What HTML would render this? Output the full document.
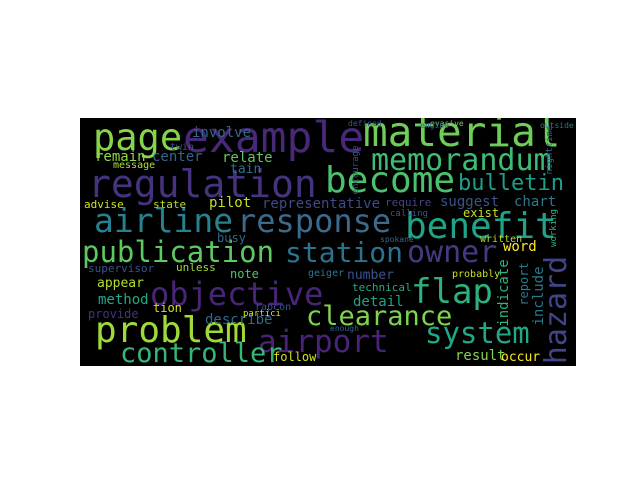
<!DOCTYPE html>
<html><head><meta charset="utf-8"><style>
html,body{margin:0;padding:0;background:#fff;width:640px;height:480px;overflow:hidden}
svg{position:absolute;left:0;top:0}
text{font-family:"DejaVu Sans Mono","Liberation Mono",monospace}
</style></head><body>
<svg width="640" height="480">
<defs><clipPath id="clip"><rect x="80" y="118" width="496" height="248"/></clipPath></defs>
<rect x="80" y="118" width="496" height="248" fill="#000"/>
<g id="words" clip-path="url(#clip)"></g>
</svg>
<script>
const words=["page","example","material","memorandum","regulation","become","bulletin","airline","response","benefit","publication","station","owner","objective","flap","problem","clearance","airport","system","controller","hazard","involve","remain","center","relate","message","tain","advise","state","pilot","representative","require","suggest","chart","exist","supervisor","unless","note","appear","method","tion","provide","describe","partici","rapcon","geiger","word","number","probably","indicate","report","include","technical","detail","result","occur","follow","evasive","defined","busy","twin","engine","written","spokane","calling","working","nighttime","encourage","outside","enough"];
const sizes=[37,43,41,30,38,36,22,33,32,36,29,28,30,32,34,36,27,31,29,27,30,14,14,14,14,10,13,11,11,14,14,11,14,14,12,11,11,12,13,14,12,12,14,9,10,10,14,13,10,14,12,14,11,14,14,13,12,8,8,12,10,8,10,8,9,9,9,9,8,8];
const xs=[93,183,363,371,88,325,458,94,237,405,82,285,407,150,411,95,306,258,425,120,566,192,95,152,222,113,230,84,153,209,262,385,440,514,463,88,176,230,97,98,153,88,205,243,255,308,503,347,452,508,528,543,352,353,455,501,273,430,348,217,170,420,480,380,390,556,552,358,540,330];
const ys=[150,152,146,170,197,192,190,232,232,238,262,262,262,305,303,342,325,352,343,362,310,137,161,161,162,168,173,208,208,207,208,206,206,206,217,272,271,278,287,304,312,318,324,316,310,276,251,279,277,293,284,296,291,306,360,361,361,126,126,242,150,128,242,242,216,228,150,170,128,331];
const colors=["#86d549","#482878","#6ece58","#3fbc73","#46337e","#4ac16d","#1f9e89","#26828e","#3b6a8d","#20a386","#5ec962","#2c728e","#443983","#482677","#2db27d","#a0da39","#7fd34e","#482475","#22a884","#35b779","#414487","#31688e","#8fd744","#31668e","#5ec962","#b5de2b","#2c728e","#d2e21b","#b5de2b","#c2df23","#3e4a89","#414487","#3b528b","#2a788e","#c8e020","#3b528b","#a0da39","#52c569","#b5de2b","#23a983","#d8e219","#46327e","#31688e","#d2e21b","#3b528b","#2a788e","#fde725","#3b528b","#c8e020","#2fb47c","#2a788e","#2a788e","#22a884","#20a386","#86d549","#fde725","#d2e21b","#6ece58","#3b528b","#31688e","#3b528b","#31688e","#b5de2b","#31688e","#3b528b","#2fb47c","#31688e","#3b528b","#2a788e","#31688e"];
const vertical={"hazard":1,"indicate":1,"report":1,"include":1,"nighttime":1,"encourage":1,"working":1};
const g=document.getElementById('words');
words.forEach((w,i)=>{
  const t=document.createElementNS('http://www.w3.org/2000/svg','text');
  t.textContent=w;
  t.setAttribute('font-size',sizes[i]);
  t.setAttribute('fill',colors[i]);
  if(vertical[w]){
    t.setAttribute('text-anchor','middle');
    t.setAttribute('transform','translate('+xs[i]+','+ys[i]+') rotate(-90)');
  }else{
    t.setAttribute('x',xs[i]);
    t.setAttribute('y',ys[i]);
  }
  
  
  g.appendChild(t);
});
</script>
</body></html>
